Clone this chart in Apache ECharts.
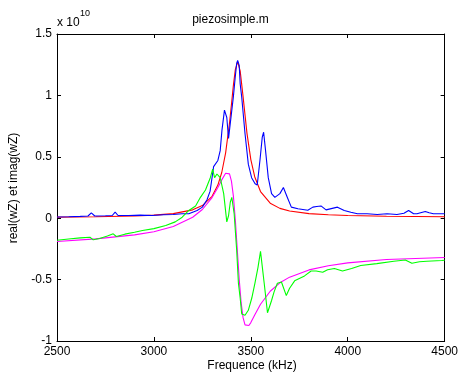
<!DOCTYPE html>
<html>
<head>
<meta charset="utf-8">
<script src="https://cdn.jsdelivr.net/npm/echarts@6/dist/echarts.min.js"></script>
<style>html,body{margin:0;padding:0;background:#fff;}#c{width:461px;height:374px;}</style>
</head>
<body>
<div id="c"></div>
<script>
// values in units of 1e10
const xTicks = [2500, 3000, 3500, 4000, 4500];
const yTicks = [-1, -0.5, 0, 0.5, 1, 1.5];

const blueF = [2500,2560,2620,2660,2677,2695,2750,2785,2800,2815,2870,2930,2990,3050,3100,3145,3180,3223,3250,3274,3290,3308,3317,3330,3342,3351,3364,3376,3385,3394,3410,3419,3427,3432,3440,3445,3453,3470,3487,3504,3522,3533,3547,3559,3566,3576,3590,3607,3624,3650,3668,3688,3709,3743,3794,3820,3840,3862,3888,3920,3947,3982,4016,4050,4100,4152,4203,4254,4290,4314,4340,4357,4400,4420,4442,4500];
const blueV = [0.01,0.012,0.015,0.018,0.044,0.018,0.02,0.022,0.049,0.022,0.022,0.025,0.022,0.028,0.03,0.036,0.036,0.063,0.09,0.15,0.22,0.42,0.43,0.47,0.55,0.715,0.88,0.82,0.65,0.66,0.99,1.14,1.26,1.285,1.245,1.095,0.986,0.69,0.44,0.33,0.28,0.27,0.47,0.66,0.70,0.55,0.33,0.2,0.17,0.2,0.25,0.17,0.09,0.077,0.065,0.09,0.095,0.10,0.068,0.08,0.09,0.063,0.049,0.036,0.036,0.03,0.036,0.03,0.04,0.063,0.036,0.036,0.055,0.045,0.036,0.036];

const redF = [2500,2700,2900,3000,3100,3200,3250,3300,3330,3350,3370,3390,3400,3410,3420,3432,3445,3460,3480,3500,3520,3550,3600,3650,3700,3800,3900,4000,4200,4500];
const redV = [0.009,0.012,0.018,0.025,0.037,0.068,0.103,0.178,0.27,0.372,0.532,0.775,0.926,1.082,1.21,1.275,1.20,0.99,0.693,0.477,0.338,0.217,0.122,0.08,0.058,0.037,0.028,0.022,0.016,0.012];

const greenF = [2500,2560,2620,2670,2687,2720,2760,2790,2806,2850,2900,2941,3000,3061,3110,3146,3180,3215,3240,3266,3291,3303,3313,3325,3334,3342,3360,3376,3385,3394,3402,3414,3427,3436,3445,3453,3470,3487,3505,3521,3537,3550,3555,3569,3586,3607,3620,3637,3658,3683,3700,3726,3777,3811,3837,3871,3896,3931,3973,4020,4067,4150,4238,4297,4331,4370,4408,4485,4500];
const greenV = [-0.18,-0.17,-0.16,-0.155,-0.176,-0.165,-0.145,-0.127,-0.149,-0.13,-0.115,-0.10,-0.085,-0.06,-0.03,0.008,0.063,0.10,0.17,0.23,0.33,0.40,0.33,0.36,0.36,0.33,0.20,-0.03,0.02,0.13,0.17,0.036,-0.26,-0.53,-0.65,-0.78,-0.79,-0.75,-0.65,-0.53,-0.4,-0.27,-0.27,-0.53,-0.77,-0.67,-0.6,-0.53,-0.52,-0.63,-0.57,-0.51,-0.47,-0.43,-0.43,-0.44,-0.42,-0.41,-0.43,-0.41,-0.385,-0.37,-0.35,-0.34,-0.367,-0.355,-0.35,-0.345,-0.343];

const magF = [2500,2700,2900,3000,3100,3200,3250,3300,3330,3350,3370,3380,3390,3400,3410,3420,3430,3440,3450,3460,3470,3480,3490,3500,3520,3550,3600,3650,3700,3800,3900,4000,4200,4500];
const magV = [-0.19,-0.168,-0.136,-0.11,-0.067,0.008,0.071,0.168,0.25,0.312,0.366,0.376,0.361,0.302,0.18,-0.012,-0.254,-0.496,-0.688,-0.81,-0.869,-0.884,-0.874,-0.85,-0.789,-0.701,-0.595,-0.526,-0.48,-0.421,-0.387,-0.364,-0.336,-0.32];

function pairs(f, v) { return f.map((x, i) => [x, v[i]]); }

const FONT = '"Liberation Sans", Arial, Helvetica, sans-serif';
const chart = echarts.init(document.getElementById('c'), null, {renderer: 'canvas'});

const axCommonX = {
  type: 'value', min: 2500, max: 4500, interval: 500,
  axisLine: {show: true, onZero: false, lineStyle: {color: '#000', width: 1}},
  axisTick: {show: true, inside: true, length: 4, lineStyle: {color: '#000'}},
  splitLine: {show: false}
};
const axCommonY = {
  type: 'value', min: -1, max: 1.5, interval: 0.5,
  axisLine: {show: true, onZero: false, lineStyle: {color: '#000', width: 1}},
  axisTick: {show: true, inside: true, length: 4, lineStyle: {color: '#000'}},
  splitLine: {show: false}
};

function line(data, color) {
  return {type: 'line', data: data, showSymbol: false, symbol: 'none',
    lineStyle: {color: color, width: 1.1}, itemStyle: {color: color},
    xAxisIndex: 0, yAxisIndex: 0, animation: false, z: 2};
}

chart.setOption({
  animation: false,
  backgroundColor: '#fff',
  grid: {left: 57, right: 13, top: 34, bottom: 33, containLabel: false},
  xAxis: [
    Object.assign({}, axCommonX, {position: 'bottom',
      axisLabel: {show: true, color: '#000', fontFamily: FONT, fontSize: 12, margin: 5,
        formatter: v => xTicks.includes(v) ? String(v) : ''}}),
    Object.assign({}, axCommonX, {position: 'top', axisLabel: {show: false}})
  ],
  yAxis: [
    Object.assign({}, axCommonY, {position: 'left',
      axisLabel: {show: true, color: '#000', fontFamily: FONT, fontSize: 12, margin: 5,
        formatter: v => yTicks.includes(v) ? String(v) : ''}}),
    Object.assign({}, axCommonY, {position: 'right', axisLabel: {show: false}})
  ],
  series: [
    line(pairs(redF, redV), '#ff0000'),
    line(pairs(blueF, blueV), '#0000ff'),
    line(pairs(magF, magV), '#ff00ff'),
    line(pairs(greenF, greenV), '#00ff00')
  ],
  graphic: [
    {type: 'text', left: 'center', x: 0, style: {text: 'piezosimple.m', font: '12px ' + FONT, fill: '#000',
      x: 252, y: 20, textAlign: 'center', textVerticalAlign: 'middle'}},
    {type: 'text', style: {text: 'x 10', font: '12px ' + FONT, fill: '#000',
      x: 57, y: 23, textAlign: 'left', textVerticalAlign: 'middle'}},
    {type: 'text', style: {text: '10', font: '9px ' + FONT, fill: '#000',
      x: 80, y: 14, textAlign: 'left', textVerticalAlign: 'middle'}},
    {type: 'text', style: {text: 'Frequence (kHz)', font: '12px ' + FONT, fill: '#000',
      x: 252, y: 366, textAlign: 'center', textVerticalAlign: 'middle'}},
    {type: 'text', x: 14, y: 188, rotation: Math.PI / 2,
      style: {text: 'real(wZ) et imag(wZ)', font: '12px ' + FONT, fill: '#000',
      x: 0, y: 0, textAlign: 'center', textVerticalAlign: 'middle'}}
  ]
});
</script>
</body>
</html>
